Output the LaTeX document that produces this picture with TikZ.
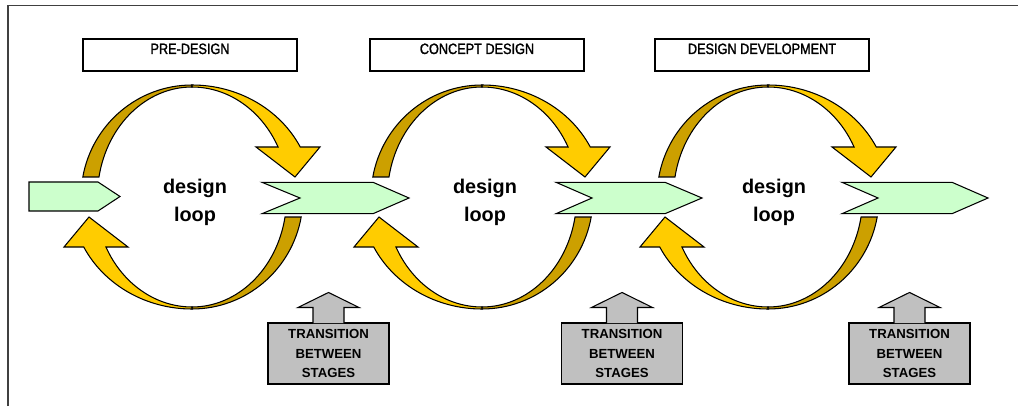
\documentclass[tikz,border=0pt]{standalone}
\usepackage{fontspec}
\setmainfont{Liberation Sans}
\newfontfamily\narrowfont[FakeStretch=0.85, FakeBold=1.5]{Liberation Sans}
\definecolor{goldlight}{RGB}{255,204,0}
\definecolor{golddark}{RGB}{204,160,0}
\definecolor{chevgreen}{RGB}{204,255,204}
\definecolor{boxgrey}{RGB}{192,192,192}
\tikzset{
  loopdark/.style={fill=golddark, draw=black},
  loopgold/.style={fill=goldlight, draw=black},
  chevron/.style={fill=chevgreen, draw=black},
  titlebox/.style={draw=black, minimum width=42.8mm, minimum height=6.4mm, inner sep=0pt,
    text height=2.2mm, text depth=2.6mm, font=\narrowfont\fontsize{8.5}{10}\selectfont},
  transbox/.style={draw=black, fill=boxgrey, minimum width=24.2mm, minimum height=12.2mm,
    inner sep=0pt, align=center, font=\bfseries\fontsize{7.5}{11.3}\selectfont},
  looptext/.style={anchor=base, inner sep=0pt, font=\bfseries\fontsize{11.3}{14}\selectfont},
  halfloop/.pic={
    \filldraw[loopdark] (-109.2,20) arc[start angle=169.71, end angle=90, x radius=111, y radius=112]
      -- (0,110) arc[start angle=90, end angle=169.52, x radius=94.6, y radius=110] -- cycle;
    \filldraw[loopgold] (0,112) arc[start angle=90, end angle=26.52, x radius=121, y radius=112]
      -- (128,50) -- (103,20) -- (64,50) -- (86.05,50)
      arc[start angle=27.04, end angle=90, x radius=96.6, y radius=110] -- cycle;
  },
}

\begin{document}
\begin{tikzpicture}[x=0.2mm, y=0.2mm, line width=0.6pt]
\useasboundingbox (0,0) rectangle (1018,406);
\draw [black!75] (8,0) -- (8,400.3) -- (1018,400.3);
% stage titles
\node[titlebox] (predesign) at (190,351) {PRE-DESIGN};
\node[titlebox] (concept) at (477,351) {CONCEPT DESIGN};
\node[titlebox] (development) at (762,351) {DESIGN DEVELOPMENT};
% loops
\pic at (192,209) {halfloop};
\pic[rotate=180] at (192,209) {halfloop};
\pic at (482,209) {halfloop};
\pic[rotate=180] at (482,209) {halfloop};
\pic at (768,209) {halfloop};
\pic[rotate=180] at (768,209) {halfloop};
\node[looptext] (designa) at (195,212) {design};
\node[looptext] (loopa) at (195,184) {loop};
\node[looptext] (designb) at (485,212) {design};
\node[looptext] (loopb) at (485,184) {loop};
\node[looptext] (designc) at (774,212) {design};
\node[looptext] (loopc) at (774,184) {loop};
% green arrows
\filldraw [chevron] (29,195) -- (98,195) -- (120,209.5) -- (98,224) -- (29,224) -- cycle;
\filldraw [chevron] (262,223.7) -- (373,223.7) -- (409,208) -- (373,192.3) -- (262,192.3) -- (300,208) -- cycle;
\filldraw [chevron] (556,223.7) -- (665,223.7) -- (702,208) -- (665,192.3) -- (556,192.3) -- (592,208) -- cycle;
\filldraw [chevron] (842,223.7) -- (952,223.7) -- (988,208) -- (952,192.3) -- (842,192.3) -- (878,208) -- cycle;
% transitions
\node[transbox] (transa) at (328.5,52.5) {TRANSITION\\BETWEEN\\STAGES};
\node[transbox] (transb) at (622,52.5) {TRANSITION\\BETWEEN\\STAGES};
\node[transbox] (transc) at (909.5,52.5) {TRANSITION\\BETWEEN\\STAGES};
\filldraw [fill=boxgrey] (transa.north) ++(-15.5,-0.6) -- ++(0,15.6) -- ++(-15,0) -- ++(30.5,15) -- ++(30.5,-15) -- ++(-15,0) -- ++(0,-15.6);
\filldraw [fill=boxgrey] (transb.north) ++(-15.5,-0.6) -- ++(0,15.6) -- ++(-15,0) -- ++(30.5,15) -- ++(30.5,-15) -- ++(-15,0) -- ++(0,-15.6);
\filldraw [fill=boxgrey] (transc.north) ++(-15.5,-0.6) -- ++(0,15.6) -- ++(-15,0) -- ++(30.5,15) -- ++(30.5,-15) -- ++(-15,0) -- ++(0,-15.6);
\end{tikzpicture}
\end{document}
